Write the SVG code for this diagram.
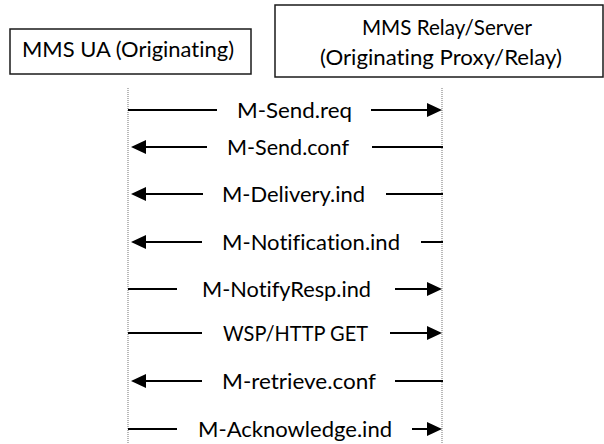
<svg xmlns="http://www.w3.org/2000/svg" width="604" height="444" viewBox="0 0 604 444">
<style>
.box{fill:#fff;stroke:#1a1a1a;stroke-width:1.5}
.t{font-family:Lato,"Liberation Sans",Arial,sans-serif;font-size:21.5px;fill:#000;font-variant-ligatures:none;font-feature-settings:"liga" 0,"clig" 0}
.ll{stroke:#8a8a8a;stroke-width:1.2;stroke-dasharray:1 1;fill:none}
.ln{stroke:#000;stroke-width:2;fill:none}
.hd{fill:#000}
</style>
<rect width="604" height="444" fill="#fff"/>
<g id="ua">
<rect class="box" x="10" y="29" width="241" height="45"/>
<text class="t" x="22" y="57" textLength="212" lengthAdjust="spacingAndGlyphs">MMS UA (Originating)</text>
</g>
<g id="relay">
<rect class="box" x="275" y="5" width="328" height="72"/>
<text class="t" x="362" y="35" textLength="170" lengthAdjust="spacingAndGlyphs">MMS Relay/Server</text>
<text class="t" x="320" y="65" textLength="242" lengthAdjust="spacingAndGlyphs">(Originating Proxy/Relay)</text>
</g>
<g id="lifelines">
<line class="ll" x1="128" y1="88" x2="128" y2="444"/>
<line class="ll" x1="442" y1="88" x2="442" y2="444"/>
</g>
<g id="connectors">
<line class="ln" x1="128" y1="110" x2="217" y2="110"/>
<line class="ln" x1="371" y1="110" x2="430" y2="110"/>
<path class="hd" d="M442 110 L427 103 L427 117 Z"/>
<text class="t" x="237" y="118" textLength="115" lengthAdjust="spacingAndGlyphs">M-Send.req</text>
<path class="hd" d="M131 147 L146 140 L146 154 Z"/>
<line class="ln" x1="143" y1="147" x2="207" y2="147"/>
<line class="ln" x1="372" y1="147" x2="443" y2="147"/>
<text class="t" x="227" y="155" textLength="122" lengthAdjust="spacingAndGlyphs">M-Send.conf</text>
<path class="hd" d="M131 194 L146 187 L146 201 Z"/>
<line class="ln" x1="143" y1="194" x2="203" y2="194"/>
<line class="ln" x1="386" y1="194" x2="443" y2="194"/>
<text class="t" x="222" y="202" textLength="143" lengthAdjust="spacingAndGlyphs">M-Delivery.ind</text>
<path class="hd" d="M131 242 L146 235 L146 249 Z"/>
<line class="ln" x1="143" y1="242" x2="202" y2="242"/>
<line class="ln" x1="421" y1="242" x2="443" y2="242"/>
<text class="t" x="222" y="250" textLength="178" lengthAdjust="spacingAndGlyphs">M-Notification.ind</text>
<line class="ln" x1="128" y1="289" x2="177" y2="289"/>
<line class="ln" x1="395" y1="289" x2="430" y2="289"/>
<path class="hd" d="M442 289 L427 282 L427 296 Z"/>
<text class="t" x="202" y="297" textLength="169" lengthAdjust="spacingAndGlyphs">M-NotifyResp.ind</text>
<line class="ln" x1="128" y1="333" x2="202" y2="333"/>
<line class="ln" x1="390" y1="333" x2="430" y2="333"/>
<path class="hd" d="M442 333 L427 326 L427 340 Z"/>
<text class="t" x="223" y="341" textLength="145" lengthAdjust="spacingAndGlyphs">WSP/HTTP GET</text>
<path class="hd" d="M131 381 L146 374 L146 388 Z"/>
<line class="ln" x1="143" y1="381" x2="202" y2="381"/>
<line class="ln" x1="395" y1="381" x2="443" y2="381"/>
<text class="t" x="222" y="389" textLength="154" lengthAdjust="spacingAndGlyphs">M-retrieve.conf</text>
<line class="ln" x1="128" y1="429" x2="177" y2="429"/>
<line class="ln" x1="412" y1="429" x2="430" y2="429"/>
<path class="hd" d="M442 429 L427 422 L427 436 Z"/>
<text class="t" x="198" y="437" textLength="194" lengthAdjust="spacingAndGlyphs">M-Acknowledge.ind</text>
</g>
</svg>
